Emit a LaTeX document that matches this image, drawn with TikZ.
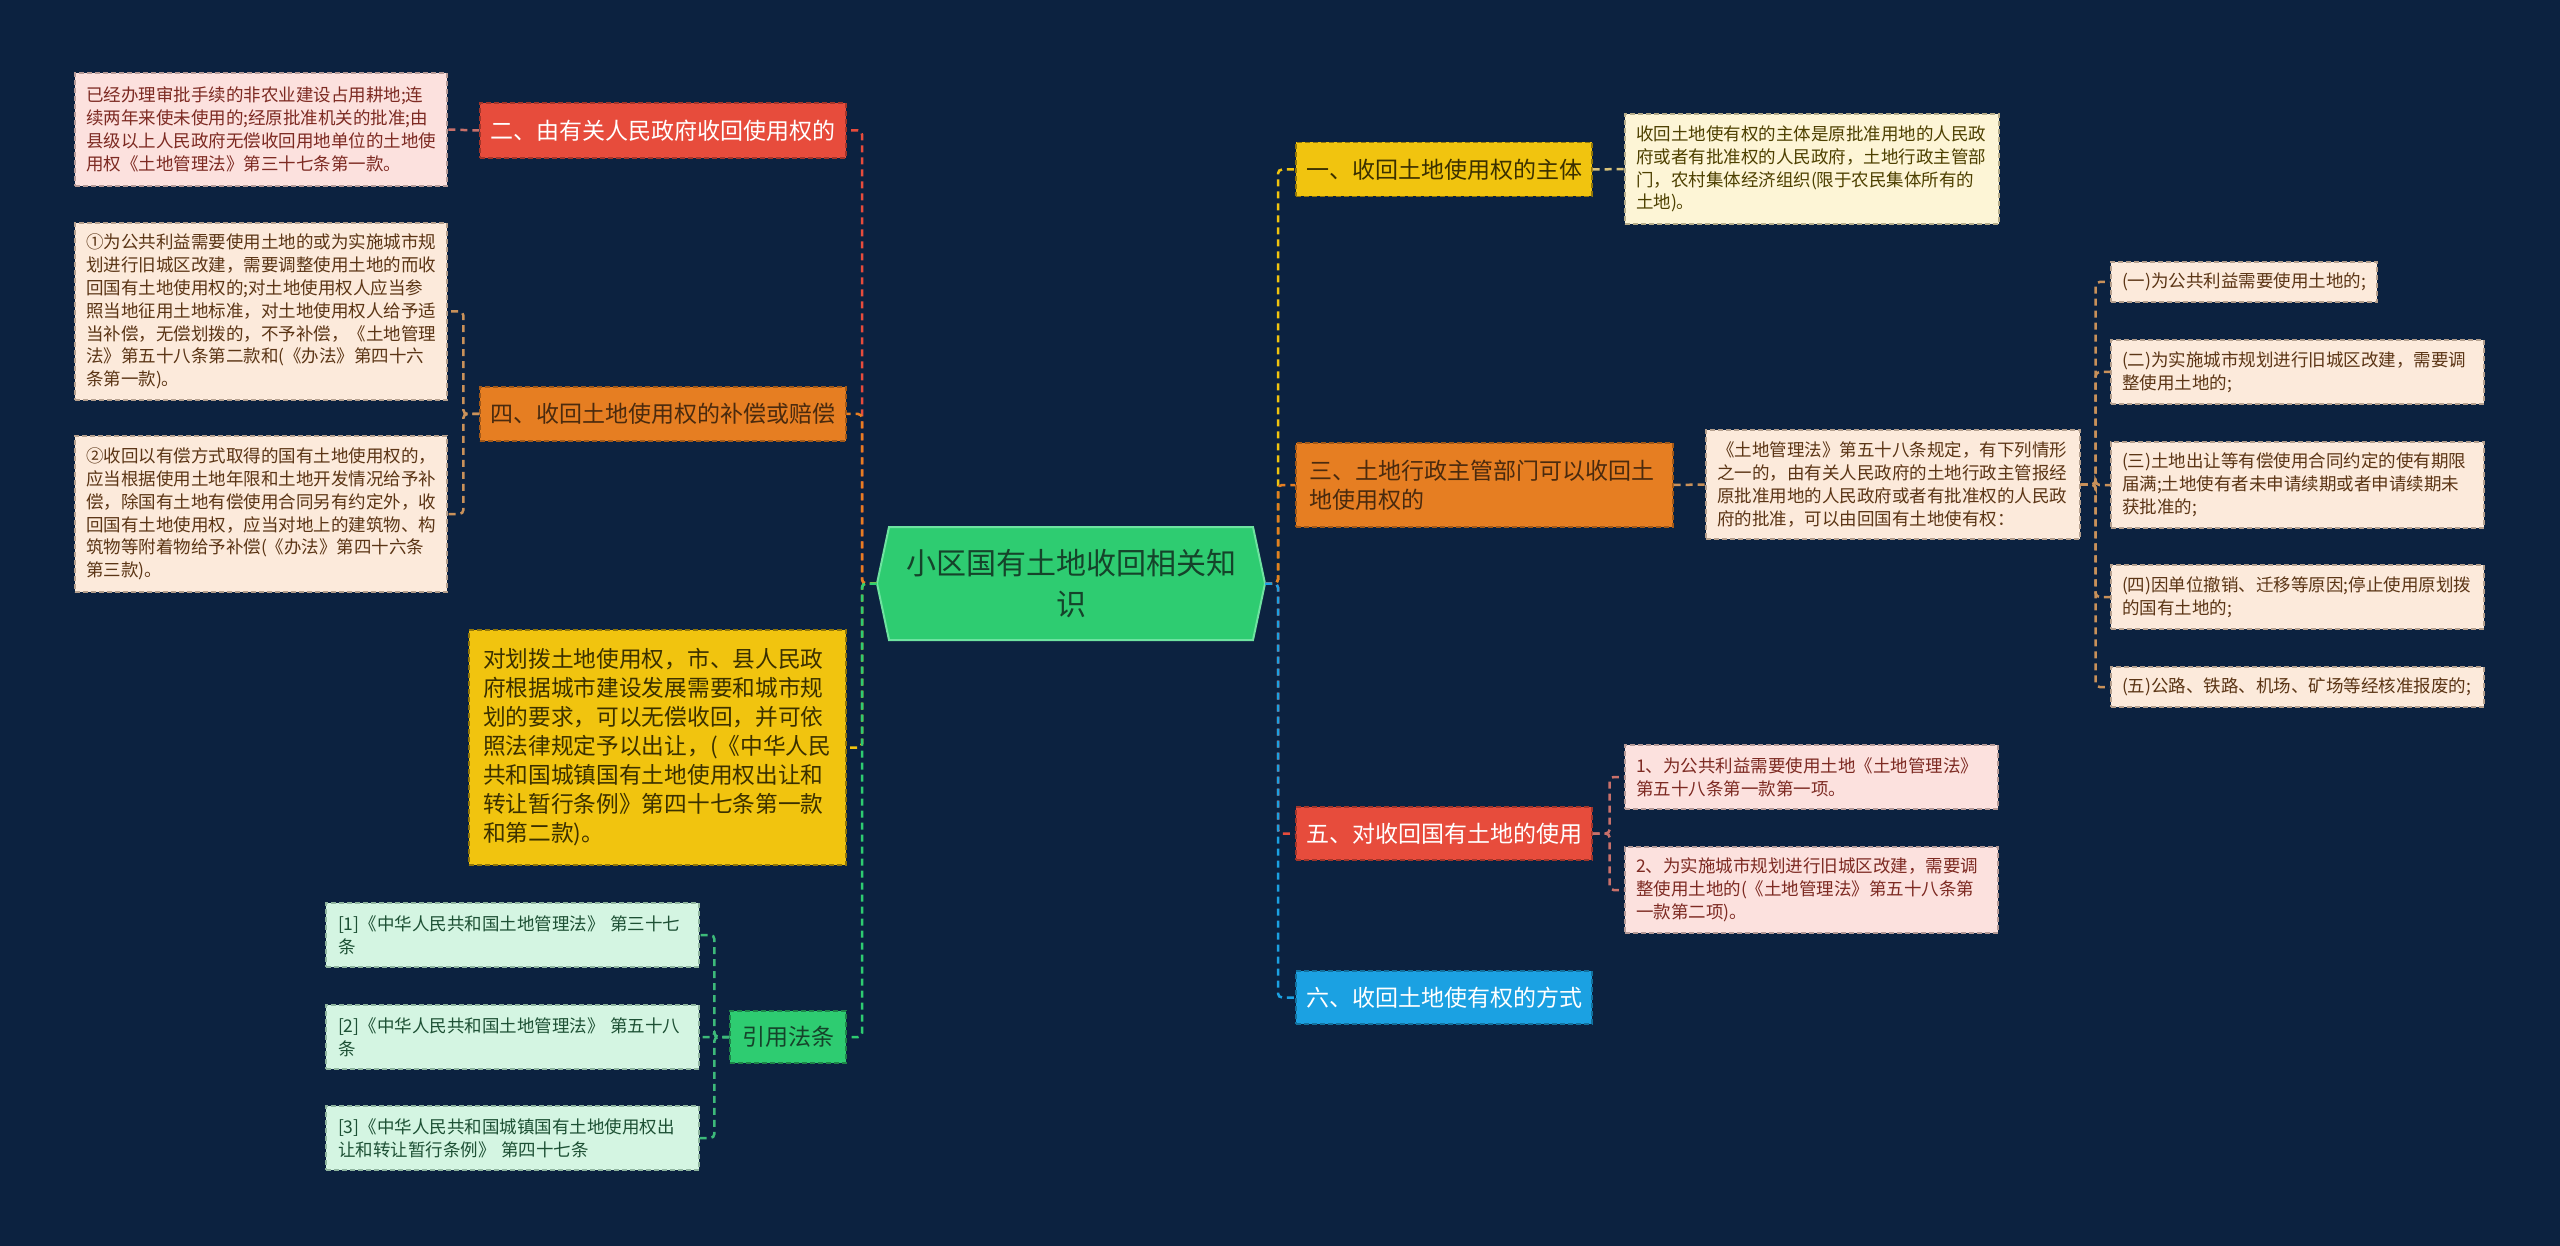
\documentclass[tikz,border=0pt]{standalone}
\usepackage{fontspec}
\setmainfont{Noto Sans CJK SC}
\definecolor{bg}{HTML}{0C2240}
\definecolor{cred}{HTML}{E74C3C}
\definecolor{corange}{HTML}{E67E22}
\definecolor{cyellow}{HTML}{F1C40F}
\definecolor{cgreen}{HTML}{2ECC71}
\definecolor{cblue}{HTML}{1BA1E2}
\definecolor{cgreenL}{HTML}{6EE3A0}
\definecolor{darkbrown}{HTML}{4A2A0E}
\definecolor{darkyellow}{HTML}{3B3000}
\definecolor{darkgreen}{HTML}{15432A}
\definecolor{pinkF}{HTML}{FCE1DE}
\definecolor{pinkT}{HTML}{7D2A22}
\definecolor{pinkD}{HTML}{B59A97}
\definecolor{peachF}{HTML}{FCEADB}
\definecolor{peachT}{HTML}{5B3515}
\definecolor{peachD}{HTML}{B5A08E}
\definecolor{ylwF}{HTML}{FDF5D6}
\definecolor{ylwT}{HTML}{4D4000}
\definecolor{ylwD}{HTML}{B5AC8A}
\definecolor{grnF}{HTML}{D4F5E2}
\definecolor{grnT}{HTML}{1D5034}
\definecolor{grnD}{HTML}{8FB59F}
\definecolor{brred}{HTML}{C9706A}
\definecolor{brorange}{HTML}{C9915A}
\definecolor{bryellow}{HTML}{D9C27A}
\definecolor{brgreen}{HTML}{3DBA7A}
\begin{document}
\begin{tikzpicture}[x=1pt,y=-1pt,
  base/.style={rectangle, inner sep=0pt, align=left, dash pattern=on 5pt off 3pt, line width=1.3pt},
  leaf/.style={base, font=\fontsize{17.5}{22.8}\selectfont},
  topic/.style={base, font=\fontsize{23}{29}\selectfont, align=center},
  lpink/.style={leaf, fill=pinkF, draw=pinkD, text=pinkT},
  lpeach/.style={leaf, fill=peachF, draw=peachD, text=peachT},
  lylw/.style={leaf, fill=ylwF, draw=ylwD, text=ylwT},
  lgrn/.style={leaf, fill=grnF, draw=grnD, text=grnT},
  tred/.style={topic, fill=cred, draw=cred!70!black, text=white},
  torange/.style={topic, fill=corange, draw=corange!70!black, text=darkbrown},
  tyellow/.style={topic, fill=cyellow, draw=cyellow!60!black, text=darkyellow},
  tgreen/.style={topic, fill=cgreen, draw=cgreen!65!black, text=darkgreen},
  tblue/.style={topic, fill=cblue, draw=cblue!70!black, text=white},
  conn/.style={line width=2.5pt, dash pattern=on 7pt off 5pt, rounded corners=4pt},
]
\fill[bg] (0,0) rectangle (2560,1246);
\useasboundingbox (0,0) rectangle (2560,1246);

% centre
\fill[cgreen, draw=cgreenL, line width=2pt] (889,527) -- (1253,527) -- (1265,583.5) -- (1253,640) -- (889,640) -- (877,583.5) -- cycle;
\node[font=\fontsize{30}{41}\selectfont, text=darkgreen, align=center, inner sep=0pt, minimum width=388pt, minimum height=113pt] (c) at (1071,583.5) {小区国有土地收回相关知\\识};

\coordinate (lt) at (862,583.5);
\coordinate (rt) at (1278,583.5);

% left side
\node[tred, minimum width=366pt, minimum height=55pt] (n2) at (663,130.5) {二、由有关人民政府收回使用权的};
\node[lpink, minimum width=372pt, minimum height=113pt, text width=350pt] (nA) at (261,129.5) {已经办理审批手续的非农业建设占用耕地;连\\续两年来使未使用的;经原批准机关的批准;由\\县级以上人民政府无偿收回用地单位的土地使\\用权《土地管理法》第三十七条第一款。};

\node[torange, minimum width=366pt, minimum height=54pt] (n4) at (663,414) {四、收回土地使用权的补偿或赔偿};
\node[lpeach, minimum width=372pt, minimum height=177pt, text width=350pt] (n4a) at (261,311.5) {①为公共利益需要使用土地的或为实施城市规\\划进行旧城区改建，需要调整使用土地的而收\\回国有土地使用权的;对土地使用权人应当参\\照当地征用土地标准，对土地使用权人给予适\\当补偿，无偿划拨的，不予补偿，《土地管理\\法》第五十八条第二款和(《办法》第四十六\\条第一款)。};
\node[lpeach, minimum width=372pt, minimum height=156pt, text width=350pt] (n4b) at (261,514) {②收回以有偿方式取得的国有土地使用权的，\\应当根据使用土地年限和土地开发情况给予补\\偿，除国有土地有偿使用合同另有约定外，收\\回国有土地使用权，应当对地上的建筑物、构\\筑物等附着物给予补偿(《办法》第四十六条\\第三款)。};

\node[tyellow, font=\fontsize{22.7}{29}\selectfont, align=left, minimum width=377pt, minimum height=235pt, text width=349pt] (nY) at (657.5,747.5) {对划拨土地使用权，市、县人民政\\府根据城市建设发展需要和城市规\\划的要求，可以无偿收回，并可依\\照法律规定予以出让，(《中华人民\\共和国城镇国有土地使用权出让和\\转让暂行条例》第四十七条第一款\\和第二款)。};

\node[tgreen, minimum width=116pt, minimum height=52pt] (nL) at (788,1037) {引用法条};
\node[lgrn, minimum width=373pt, minimum height=64pt, text width=349pt] (nL1) at (512.5,935) {[1]《中华人民共和国土地管理法》 第三十七\\条};
\node[lgrn, minimum width=373pt, minimum height=64pt, text width=349pt] (nL2) at (512.5,1037) {[2]《中华人民共和国土地管理法》 第五十八\\条};
\node[lgrn, minimum width=373pt, minimum height=64pt, text width=349pt] (nL3) at (512.5,1138) {[3]《中华人民共和国城镇国有土地使用权出\\让和转让暂行条例》 第四十七条};

% right side
\node[tyellow, minimum width=296pt, minimum height=54pt] (n1) at (1444,169.5) {一、收回土地使用权的主体};
\node[lylw, minimum width=374pt, minimum height=110pt, text width=352pt] (n1a) at (1812,169) {收回土地使有权的主体是原批准用地的人民政\\府或者有批准权的人民政府，土地行政主管部\\门，农村集体经济组织(限于农民集体所有的\\土地)。};

\node[torange, align=left, minimum width=377pt, minimum height=84pt, text width=351pt] (n3) at (1484.5,485) {三、土地行政主管部门可以收回土\\地使用权的};
\node[lpeach, minimum width=374pt, minimum height=109pt, text width=352pt] (n3a) at (1893,484.5) {《土地管理法》第五十八条规定，有下列情形\\之一的，由有关人民政府的土地行政主管报经\\原批准用地的人民政府或者有批准权的人民政\\府的批准，可以由回国有土地使有权：};
\node[lpeach, minimum width=266pt, minimum height=40pt, text width=244pt] (k1) at (2244,282) {(一)为公共利益需要使用土地的;};
\node[lpeach, minimum width=373pt, minimum height=64pt, text width=351pt] (k2) at (2297.5,372) {(二)为实施城市规划进行旧城区改建，需要调\\整使用土地的;};
\node[lpeach, minimum width=373pt, minimum height=86pt, text width=351pt] (k3) at (2297.5,485) {(三)土地出让等有偿使用合同约定的使有期限\\届满;土地使有者未申请续期或者申请续期未\\获批准的;};
\node[lpeach, minimum width=373pt, minimum height=64pt, text width=351pt] (k4) at (2297.5,597) {(四)因单位撤销、迁移等原因;停止使用原划拨\\的国有土地的;};
\node[lpeach, minimum width=373pt, minimum height=40pt, text width=351pt] (k5) at (2297.5,687) {(五)公路、铁路、机场、矿场等经核准报废的;};

\node[tred, minimum width=296pt, minimum height=53pt] (n5) at (1444,833.5) {五、对收回国有土地的使用};
\node[lpink, minimum width=373pt, minimum height=64pt, text width=351pt] (n5a) at (1811.5,777) {1、为公共利益需要使用土地《土地管理法》\\第五十八条第一款第一项。};
\node[lpink, minimum width=373pt, minimum height=86pt, text width=351pt] (n5b) at (1811.5,890) {2、为实施城市规划进行旧城区改建，需要调\\整使用土地的(《土地管理法》第五十八条第\\一款第二项)。};

\node[tblue, minimum width=296pt, minimum height=53pt] (n6) at (1444,997.5) {六、收回土地使有权的方式};

% main connectors left
\draw[conn, cred] (c.west) -- (lt) |- (n2.east);
\draw[conn, corange] (c.west) -- (lt) |- (n4.east);
\draw[conn, cyellow] (c.west) -- (lt) |- (nY.east);
\draw[conn, cgreen] (c.west) -- (lt) |- (nL.east);
% main connectors right
\draw[conn, cyellow] (c.east) -- (rt) |- (n1.west);
\draw[conn, corange] (c.east) -- (rt) |- (n3.west);
\draw[conn, cred] (c.east) -- (rt) |- (n5.west);
\draw[conn, cblue] (c.east) -- (rt) |- (n6.west);

% child connectors
\draw[conn, brred] (n2.west) -- (nA.east);
\draw[conn, brorange] (n4.west) -- ++(-16,0) |- (n4a.east);
\draw[conn, brorange] (n4.west) -- ++(-16,0) |- (n4b.east);
\draw[conn, brgreen] (nL.west) -- ++(-15,0) |- (nL1.east);
\draw[conn, brgreen] (nL.west) -- ++(-15,0) |- (nL2.east);
\draw[conn, brgreen] (nL.west) -- ++(-15,0) |- (nL3.east);
\draw[conn, bryellow] (n1.east) -- (n1a.west);
\draw[conn, brorange] (n3.east) -- (n3a.west);
\draw[conn, brorange] (n3a.east) -- ++(15,0) |- (k1.west);
\draw[conn, brorange] (n3a.east) -- ++(15,0) |- (k2.west);
\draw[conn, brorange] (n3a.east) -- ++(15,0) |- (k3.west);
\draw[conn, brorange] (n3a.east) -- ++(15,0) |- (k4.west);
\draw[conn, brorange] (n3a.east) -- ++(15,0) |- (k5.west);
\draw[conn, brred] (n5.east) -- ++(17,0) |- (n5a.west);
\draw[conn, brred] (n5.east) -- ++(17,0) |- (n5b.west);
\end{tikzpicture}
\end{document}
